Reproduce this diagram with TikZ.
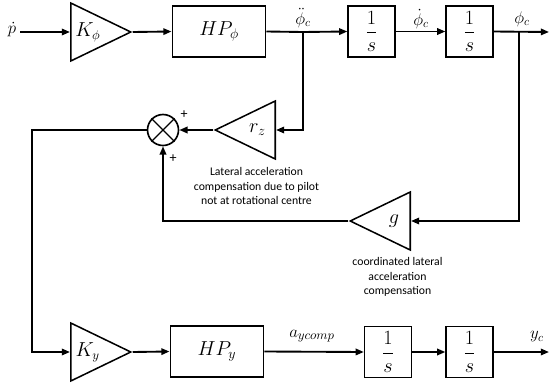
\documentclass[tikz,border=0pt]{standalone}
\usepackage{amsmath}
\usepackage{fontspec}
\setmainfont{Carlito}
\usetikzlibrary{positioning,arrows.meta,shapes.geometric}

\begin{document}
\begin{tikzpicture}[x=0.03cm, y=-0.03cm,
    sig/.style={line width=1.6pt},
    arr/.style={sig, -{Triangle[length=7pt,width=5.5pt]}},
    mathlbl/.style={font=\fontsize{14}{17}\selectfont},
    blockbox/.style={draw, line width=1.4pt, inner sep=0pt, minimum width=2.8cm, minimum height=1.53cm, font=\fontsize{17}{20}\selectfont},
    intbox/.style={draw, line width=1.4pt, inner sep=0pt, minimum width=1.4cm, minimum height=1.52cm, font=\fontsize{16}{19}\selectfont},
    gainR/.style={draw, line width=1.3pt, isosceles triangle, isosceles triangle stretches, shape border rotate=0, minimum width=1.74cm, minimum height=1.8cm, inner sep=0pt, anchor=lower side, font=\fontsize{16}{19}\selectfont},
    gainL/.style={gainR, shape border rotate=180, font=\fontsize{18}{21}\selectfont},
    sumnode/.style={draw, circle, line width=1.4pt, minimum size=0.93cm, inner sep=0pt},
    note/.style={align=center, font=\fontsize{10}{12.3}\selectfont}]
    \useasboundingbox (0,0) rectangle (549,388);

    % Roll channel
    \node[mathlbl] (pdot) at (12,30) {$\dot{p}$};
    \node[gainR] (kphi) at (70,32) {$K_\phi$};
    \node[blockbox] (hpphi) at (219,31.5) {$HP_\phi$};
    \node[intbox] (intA) at (371.5,31.5) {$\dfrac{1}{\rule{0pt}{13pt}s}$};
    \node[intbox] (intB) at (469.5,31.5) {$\dfrac{1}{\rule{0pt}{13pt}s}$};
    \coordinate (tapA) at (303,32);
    \coordinate (tapB) at (519,32);
    \coordinate (outphi) at (549,32);

    \draw[arr] (pdot.east |- kphi.lower side) -- (kphi.lower side);
    \draw[arr] (kphi.apex) -- (hpphi.west);
    \draw[sig] (hpphi.east) -- (tapA);
    \draw[arr] (tapA) -- (intA.west);
    \draw[arr] (intA) -- (intB);
    \draw[arr] (intB.east) -- (outphi);

    % Roll signal labels
    \node[mathlbl] (phiddot) at (303,18) {$\ddot{\phi}_c$};
    \node[mathlbl] (phidot) at (421,19) {$\dot{\phi}_c$};
    \node[mathlbl] (phic) at (522,19) {$\phi_c$};

    % Compensation feedback
    \node[gainL] (rz) at (276,130) {$r_z$};
    \node[sumnode] (sum) at (163,130) {};
    \draw[line width=1.2pt] (sum.north east) -- (sum.south west);
    \draw[line width=1.2pt] (sum.north west) -- (sum.south east);
    \draw[arr] (tapA) |- (rz.lower side);
    \draw[arr] (rz.apex) -- (sum.east);
    \node (plusA) at (184,115) {\large +};
    \node (plusB) at (173,159) {\large +};

    \node[gainL] (g) at (411,221) {$g$};
    \draw[arr] (tapB) |- (g.lower side);
    \draw[arr] (g.apex) -| (sum.south);

    \node[note] (rznote) at (256.5,186) {Lateral acceleration\\compensation due to pilot\\not at rotational centre};
    \node[note] (gnote) at (397.5,277) {coordinated lateral\\acceleration\\compensation};

    % Lateral channel
    \coordinate (bend) at (32,130);
    \node[gainR] (ky) at (70,352) {$K_y$};
    \node[blockbox] (hpy) at (217,351.5) {$HP_y$};
    \node[intbox] (intC) at (388,352) {$\dfrac{1}{\rule{0pt}{13pt}s}$};
    \node[intbox] (intD) at (469.5,352) {$\dfrac{1}{\rule{0pt}{13pt}s}$};
    \coordinate (outy) at (549,352);

    \draw[arr] (sum.west) -- (bend) |- (ky.lower side);
    \draw[arr] (ky.apex) -- (hpy.west);
    \draw[arr] (hpy.east) -- (intC.west);
    \draw[arr] (intC) -- (intD);
    \draw[arr] (intD.east) -- (outy);

    \node[mathlbl, font=\fontsize{15}{18}\selectfont] (aycomp) at (312,336) {$a_{ycomp}$};
    \node[mathlbl] (yc) at (537,337) {$y_c$};
\end{tikzpicture}
\end{document}
